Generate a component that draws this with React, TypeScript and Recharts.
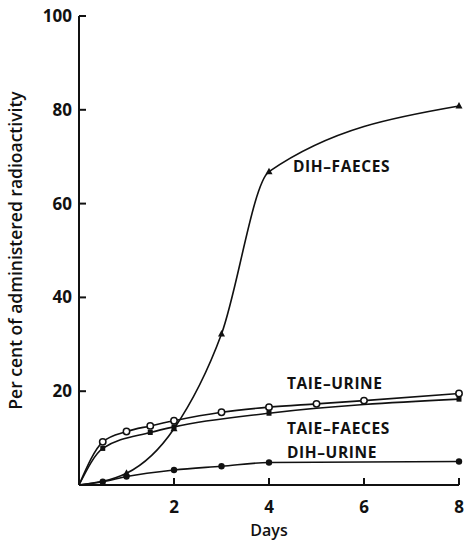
import { Customized, Line, LineChart, XAxis, YAxis } from "recharts";

const TAIE_URINE_DAYS = [0, 0.5, 1, 1.5, 2, 3, 4, 5, 6, 8];
const TAIE_URINE = [0, 9.2, 11.4, 12.6, 13.7, 15.5, 16.6, 17.3, 18.0, 19.5];

const TAIE_FAECES_DAYS = [0, 0.5, 1.5, 2, 4, 8];
const TAIE_FAECES = [0, 7.8, 11.2, 12.4, 15.3, 18.3];

const DIH_FAECES_DAYS = [0, 1, 2, 3, 4, 8];
const DIH_FAECES = [0, 2.5, 12, 32.2, 66.8, 80.8];

const DIH_URINE_DAYS = [0, 0.5, 1, 2, 3, 4, 8];
const DIH_URINE = [0, 0.7, 1.8, 3.2, 4.0, 4.8, 5.0];

const X_TICKS = [2, 4, 6, 8];
const Y_TICKS = [20, 40, 60, 80, 100];

const INK = "#111";
const FONT = "'Open Sans', 'DejaVu Sans', sans-serif";

function toRows(days: number[], values: number[]) {
  return days.map((day, i) => ({ day, value: values[i] }));
}

type Shape = "open" | "filled" | "triangle" | "small";

function makeDot(shape: Shape) {
  return (props: any) => {
    const { cx, cy, index, payload } = props;
    const key = `${shape}-${index}`;
    if (payload.day === 0 || cx == null) return <g key={key} />;
    if (shape === "open")
      return <circle key={key} cx={cx} cy={cy} r={3.2} fill="#fff" stroke={INK} strokeWidth={1.5} />;
    if (shape === "triangle")
      return (
        <polygon
          key={key}
          points={`${cx},${cy - 4} ${cx - 3.5},${cy + 2.5} ${cx + 3.5},${cy + 2.5}`}
          fill={INK}
        />
      );
    if (shape === "small")
      return <rect key={key} x={cx - 2.5} y={cy - 2.5} width={5} height={5} fill={INK} />;
    return <circle key={key} cx={cx} cy={cy} r={3.2} fill={INK} />;
  };
}

function YTick({ x, y, payload }: any) {
  return (
    <g>
      <line x1={x} x2={x + 7} y1={y} y2={y} stroke={INK} strokeWidth={2} />
      <text x={x - 7} y={y + 6} textAnchor="end" fontFamily={FONT} fontWeight={700} fontSize={17} fill={INK}>
        {payload.value}
      </text>
    </g>
  );
}

function XTick({ x, y, payload }: any) {
  return (
    <g>
      <line x1={x} x2={x} y1={y} y2={y - 7} stroke={INK} strokeWidth={2} />
      <text x={x} y={y + 28} textAnchor="middle" fontFamily={FONT} fontWeight={700} fontSize={17} fill={INK}>
        {payload.value}
      </text>
    </g>
  );
}

function SeriesLabels() {
  const style = { fontFamily: FONT, fontWeight: 700, fontSize: 15.5, letterSpacing: 0.6, fill: INK } as const;
  return (
    <g>
      <text x={293} y={172} {...style}>DIH–FAECES</text>
      <text x={287} y={389} {...style}>TAIE–URINE</text>
      <text x={287} y={434} {...style}>TAIE–FAECES</text>
      <text x={287} y={458} {...style}>DIH–URINE</text>
    </g>
  );
}

export default function App() {
  const line = { type: "monotone" as const, dataKey: "value", stroke: INK, strokeWidth: 1.6, isAnimationActive: false };
  return (
    <div style={{ position: "absolute", left: 0, top: 0, width: 464, height: 542, background: "#fff" }}>
      <LineChart width={464} height={542} margin={{ top: 16, right: 5, left: 0, bottom: 0 }}>
        <XAxis
          dataKey="day"
          type="number"
          domain={[0, 8]}
          ticks={X_TICKS}
          height={57}
          tickSize={0}
          tickMargin={0}
          tick={<XTick />}
          axisLine={{ stroke: INK, strokeWidth: 2 }}
          label={{ value: "Days", position: "insideBottom", offset: 6, fontFamily: FONT, fontWeight: 600, fontSize: 16, fill: INK }}
        />
        <YAxis
          type="number"
          domain={[0, 100]}
          ticks={Y_TICKS}
          width={79}
          tickSize={0}
          tickMargin={0}
          tick={<YTick />}
          axisLine={{ stroke: INK, strokeWidth: 2 }}
          label={{
            value: "Per cent of administered radioactivity",
            angle: -90,
            position: "insideLeft",
            offset: 16,
            style: { textAnchor: "middle" },
            fontFamily: FONT,
            fontWeight: 600,
            fontSize: 17.5,
            fill: INK,
          }}
        />
        <Line {...line} data={toRows(TAIE_URINE_DAYS, TAIE_URINE)} dot={makeDot("open")} />
        <Line {...line} data={toRows(TAIE_FAECES_DAYS, TAIE_FAECES)} dot={makeDot("small")} />
        <Line {...line} data={toRows(DIH_FAECES_DAYS, DIH_FAECES)} dot={makeDot("triangle")} />
        <Line {...line} data={toRows(DIH_URINE_DAYS, DIH_URINE)} dot={makeDot("filled")} />
        <Customized component={SeriesLabels} />
      </LineChart>
    </div>
  );
}
